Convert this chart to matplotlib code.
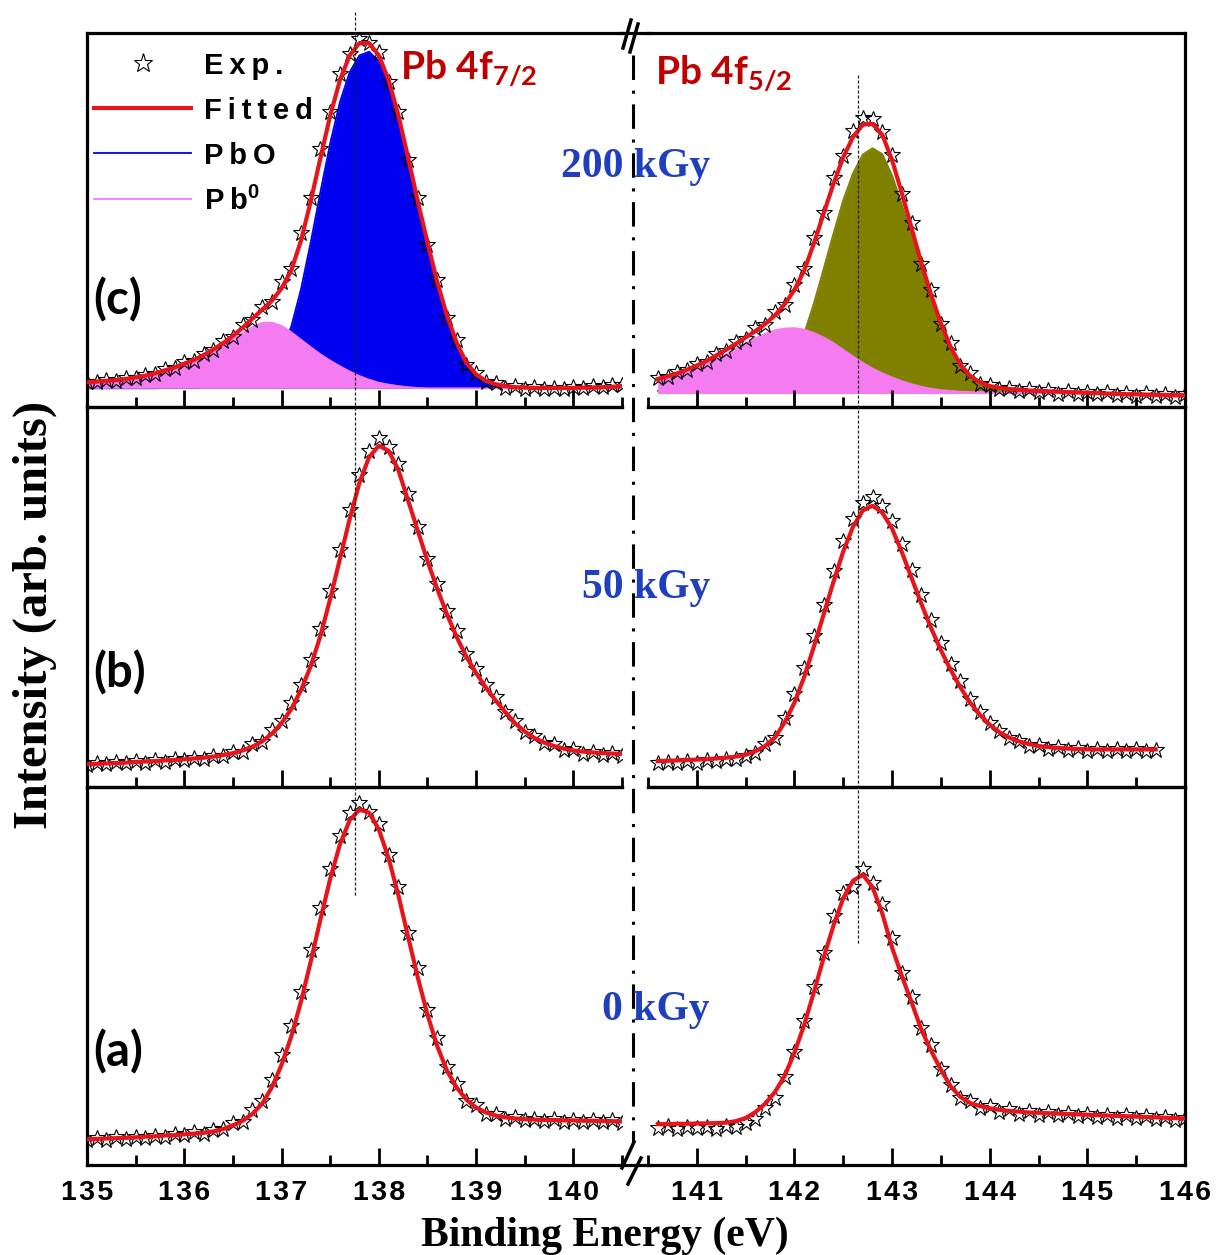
import numpy as np
import matplotlib.pyplot as plt
import matplotlib.transforms as mtransforms
from matplotlib.lines import Line2D
from matplotlib.ticker import MultipleLocator, FuncFormatter

plt.rcParams["mathtext.default"] = "regular"

# binding energy grids (0.1 eV steps)
e_left = np.round(np.arange(135.0, 140.55, 0.1), 1)     # 135.0 .. 140.5
e_right = np.round(np.arange(140.6, 146.05, 0.1), 1)    # 140.6 .. 146.0
e_right_b = e_right[:52]                                # 140.6 .. 145.7

# ---- (a) 0 kGy ----
fit_a_L = [0.068, 0.069, 0.070, 0.071, 0.072, 0.073, 0.075, 0.076, 0.078, 0.079,
           0.081, 0.083, 0.085, 0.089, 0.095, 0.105, 0.117, 0.135, 0.162, 0.205,
           0.265, 0.340, 0.432, 0.538, 0.650, 0.757, 0.848, 0.912, 0.940, 0.932,
           0.888, 0.812, 0.715, 0.605, 0.497, 0.398, 0.315, 0.250, 0.205, 0.173,
           0.152, 0.139, 0.131, 0.126, 0.123, 0.121, 0.120, 0.119, 0.119, 0.118,
           0.118, 0.117, 0.117, 0.116, 0.116, 0.115]
exp_a_L = [0.066, 0.072, 0.067, 0.073, 0.070, 0.075, 0.072, 0.078, 0.075, 0.081,
           0.079, 0.086, 0.083, 0.092, 0.094, 0.110, 0.114, 0.145, 0.168, 0.225,
           0.292, 0.368, 0.458, 0.570, 0.680, 0.782, 0.870, 0.930, 0.958, 0.935,
           0.902, 0.820, 0.735, 0.615, 0.520, 0.410, 0.335, 0.258, 0.215, 0.170,
           0.158, 0.135, 0.134, 0.121, 0.126, 0.118, 0.122, 0.116, 0.121, 0.115,
           0.120, 0.114, 0.119, 0.113, 0.118, 0.112]
fit_a_R = [0.108, 0.108, 0.109, 0.109, 0.110, 0.110, 0.111, 0.112, 0.116, 0.124,
           0.140, 0.162, 0.193, 0.236, 0.297, 0.371, 0.458, 0.549, 0.634, 0.706,
           0.752, 0.768, 0.735, 0.665, 0.575, 0.500, 0.430, 0.358, 0.302, 0.252,
           0.208, 0.180, 0.164, 0.156, 0.150, 0.146, 0.143, 0.141, 0.139, 0.138,
           0.137, 0.136, 0.135, 0.134, 0.133, 0.132, 0.131, 0.130, 0.129, 0.128,
           0.127, 0.126, 0.125, 0.124, 0.123]
exp_a_R = [0.098, 0.102, 0.096, 0.100, 0.097, 0.101, 0.095, 0.104, 0.100, 0.112,
           0.122, 0.150, 0.178, 0.232, 0.300, 0.380, 0.472, 0.560, 0.660, 0.720,
           0.735, 0.782, 0.745, 0.690, 0.600, 0.508, 0.445, 0.362, 0.318, 0.255,
           0.212, 0.176, 0.168, 0.150, 0.155, 0.140, 0.147, 0.136, 0.143, 0.132,
           0.140, 0.131, 0.138, 0.129, 0.136, 0.128, 0.133, 0.125, 0.131, 0.124,
           0.129, 0.121, 0.127, 0.120, 0.124]

# ---- (b) 50 kGy ----
fit_b_L = [0.060, 0.061, 0.062, 0.063, 0.064, 0.066, 0.067, 0.068, 0.070, 0.071,
           0.073, 0.075, 0.077, 0.080, 0.084, 0.089, 0.096, 0.106, 0.120, 0.140,
           0.168, 0.205, 0.255, 0.318, 0.398, 0.495, 0.600, 0.705, 0.800, 0.868,
           0.898, 0.885, 0.835, 0.755, 0.675, 0.595, 0.522, 0.455, 0.395, 0.343,
           0.300, 0.262, 0.228, 0.197, 0.168, 0.146, 0.129, 0.117, 0.108, 0.101,
           0.096, 0.093, 0.091, 0.089, 0.088, 0.087]
exp_b_L = [0.058, 0.064, 0.060, 0.066, 0.062, 0.068, 0.064, 0.070, 0.067, 0.073,
           0.070, 0.077, 0.074, 0.082, 0.081, 0.093, 0.092, 0.112, 0.118, 0.150,
           0.175, 0.222, 0.268, 0.335, 0.415, 0.515, 0.625, 0.730, 0.822, 0.885,
           0.918, 0.895, 0.850, 0.770, 0.685, 0.600, 0.535, 0.462, 0.410, 0.350,
           0.310, 0.268, 0.236, 0.198, 0.174, 0.146, 0.135, 0.116, 0.112, 0.098,
           0.099, 0.088, 0.093, 0.084, 0.090, 0.082]
fit_b_R = [0.068, 0.069, 0.070, 0.071, 0.072, 0.073, 0.075, 0.077, 0.080, 0.085,
           0.094, 0.108, 0.130, 0.170, 0.222, 0.290, 0.370, 0.455, 0.540, 0.620,
           0.685, 0.728, 0.740, 0.722, 0.680, 0.618, 0.550, 0.482, 0.418, 0.360,
           0.308, 0.262, 0.222, 0.190, 0.164, 0.144, 0.130, 0.120, 0.113, 0.108,
           0.105, 0.103, 0.101, 0.100, 0.099, 0.099, 0.099, 0.099, 0.099, 0.099,
           0.099, 0.099]
exp_b_R = [0.062, 0.066, 0.063, 0.068, 0.064, 0.070, 0.068, 0.074, 0.075, 0.082,
           0.090, 0.112, 0.128, 0.182, 0.245, 0.312, 0.398, 0.480, 0.568, 0.648,
           0.705, 0.748, 0.762, 0.740, 0.700, 0.640, 0.572, 0.505, 0.440, 0.380,
           0.325, 0.278, 0.232, 0.198, 0.168, 0.148, 0.128, 0.122, 0.108, 0.110,
           0.100, 0.104, 0.097, 0.102, 0.095, 0.101, 0.095, 0.100, 0.094, 0.099,
           0.094, 0.098]

# ---- (c) 200 kGy, with components ----
bg_c_L = 0.050
pb0_c_L = [0.066, 0.068, 0.070, 0.072, 0.075, 0.079, 0.084, 0.090, 0.097, 0.105,
           0.114, 0.124, 0.136, 0.150, 0.165, 0.181, 0.198, 0.214, 0.225, 0.226,
           0.217, 0.200, 0.180, 0.160, 0.141, 0.124, 0.109, 0.095, 0.083, 0.073,
           0.065, 0.060, 0.056, 0.053, 0.051, 0.050, 0.050, 0.050, 0.050, 0.050,
           0.050, 0.050, 0.050, 0.050, 0.050, 0.050, 0.050, 0.050, 0.050, 0.050,
           0.050, 0.050, 0.050, 0.050, 0.050, 0.050]
pbo_c_L = [0.050, 0.050, 0.050, 0.050, 0.050, 0.050, 0.050, 0.050, 0.051, 0.051,
           0.052, 0.052, 0.053, 0.054, 0.056, 0.059, 0.064, 0.072, 0.085, 0.108,
           0.150, 0.215, 0.315, 0.440, 0.575, 0.705, 0.815, 0.895, 0.940, 0.950,
           0.925, 0.865, 0.775, 0.665, 0.550, 0.440, 0.335, 0.245, 0.172, 0.118,
           0.086, 0.069, 0.060, 0.055, 0.052, 0.051, 0.050, 0.050, 0.050, 0.050,
           0.050, 0.050, 0.050, 0.050, 0.050, 0.050]
fit_c_L = [0.066, 0.068, 0.070, 0.072, 0.075, 0.079, 0.084, 0.090, 0.098, 0.106,
           0.116, 0.126, 0.139, 0.154, 0.171, 0.190, 0.212, 0.236, 0.260, 0.284,
           0.317, 0.365, 0.445, 0.550, 0.666, 0.779, 0.874, 0.940, 0.973, 0.973,
           0.940, 0.875, 0.781, 0.668, 0.551, 0.440, 0.335, 0.245, 0.172, 0.118,
           0.087, 0.070, 0.061, 0.056, 0.053, 0.052, 0.051, 0.051, 0.051, 0.051,
           0.051, 0.052, 0.052, 0.053, 0.054, 0.056]
exp_c_L = [0.068, 0.066, 0.072, 0.070, 0.077, 0.077, 0.086, 0.089, 0.101, 0.105,
           0.120, 0.124, 0.143, 0.152, 0.176, 0.188, 0.218, 0.233, 0.268, 0.282,
           0.335, 0.370, 0.465, 0.560, 0.690, 0.790, 0.890, 0.945, 0.985, 0.972,
           0.950, 0.870, 0.790, 0.660, 0.560, 0.432, 0.340, 0.238, 0.178, 0.112,
           0.090, 0.066, 0.063, 0.052, 0.055, 0.049, 0.053, 0.048, 0.052, 0.049,
           0.053, 0.050, 0.055, 0.054, 0.058, 0.060]

bg_c_R = 0.036
pb0_c_R = [0.070, 0.076, 0.083, 0.092, 0.102, 0.114, 0.127, 0.141, 0.155, 0.170,
           0.184, 0.196, 0.205, 0.210, 0.211, 0.207, 0.198, 0.186, 0.171, 0.153,
           0.135, 0.118, 0.103, 0.090, 0.079, 0.069, 0.061, 0.054, 0.049, 0.045,
           0.043, 0.041, 0.040, 0.040, 0.039, 0.038, 0.038, 0.038, 0.038, 0.037,
           0.037, 0.037, 0.037, 0.036, 0.036, 0.036, 0.036, 0.036, 0.036, 0.036,
           0.036, 0.036, 0.036, 0.036, 0.036]
pbo_c_R = [0.043, 0.044, 0.045, 0.046, 0.047, 0.047, 0.049, 0.050, 0.052, 0.054,
           0.057, 0.064, 0.078, 0.103, 0.140, 0.196, 0.278, 0.370, 0.464, 0.553,
           0.625, 0.675, 0.692, 0.676, 0.619, 0.541, 0.455, 0.369, 0.289, 0.217,
           0.155, 0.110, 0.081, 0.064, 0.055, 0.050, 0.047, 0.045, 0.043, 0.042,
           0.041, 0.040, 0.039, 0.038, 0.037, 0.036, 0.035, 0.034, 0.034, 0.033,
           0.032, 0.032, 0.031, 0.031, 0.030]
fit_c_R = [0.075, 0.082, 0.090, 0.100, 0.111, 0.123, 0.138, 0.153, 0.169, 0.186,
           0.203, 0.222, 0.245, 0.275, 0.313, 0.365, 0.438, 0.518, 0.597, 0.668,
           0.722, 0.755, 0.757, 0.728, 0.660, 0.572, 0.478, 0.385, 0.300, 0.224,
           0.160, 0.113, 0.083, 0.066, 0.056, 0.051, 0.048, 0.046, 0.044, 0.043,
           0.042, 0.041, 0.040, 0.039, 0.038, 0.037, 0.036, 0.035, 0.034, 0.034,
           0.033, 0.032, 0.032, 0.031, 0.031]
exp_c_R = [0.078, 0.080, 0.094, 0.098, 0.115, 0.121, 0.142, 0.150, 0.174, 0.183,
           0.210, 0.220, 0.255, 0.272, 0.325, 0.368, 0.452, 0.520, 0.612, 0.672,
           0.738, 0.772, 0.770, 0.735, 0.675, 0.570, 0.492, 0.382, 0.312, 0.222,
           0.170, 0.110, 0.090, 0.062, 0.060, 0.048, 0.052, 0.042, 0.047, 0.040,
           0.045, 0.036, 0.043, 0.035, 0.041, 0.034, 0.040, 0.032, 0.038, 0.030,
           0.037, 0.029, 0.036, 0.028, 0.034]

doses = ["0 kGy", "50 kGy", "200 kGy"]
panel_tags = ["(a)", "(b)", "(c)"]
legend_labels = ["Exp.", "Fitted", "PbO", "Pb$^{0}$"]
peak_72 = 137.76
peak_52 = 142.65

# colours
RED = "#e8141b"
TXT_RED = "#c00000"
TXT_BLUE = "#1f3fbf"
PBO_BLUE = "#0000f0"
PB0_PINK = "#f47cf0"
OLIVE = "#7f7f00"

THIN = "\u2009"
HAIR = "\u200a"
SANS = ["Liberation Sans", "DejaVu Sans"]


def spaced(s, gap=THIN):
    # the original uses wide letter tracking; keep mathtext parts intact
    if "$" in s:
        head, rest = s.split("$", 1)
        return gap.join(head) + "$" + rest
    return gap.join(s)


W, H = 1217, 1255
fig = plt.figure(figsize=(W / 100, H / 100), dpi=100)

# pixel rows of the three panels (top, bottom)
rows = {"c": (33, 407), "b": (407, 787), "a": (787, 1165)}

tick_fmt = FuncFormatter(lambda v, p: spaced(f"{v:.0f}", HAIR))


def make_pair(top, bot, labels):
    h = (bot - top) / H
    axL = fig.add_axes([87 / W, 1 - bot / H, 535 / W, h])
    axR = fig.add_axes([648 / W, 1 - bot / H, 537 / W, h])
    for ax, side in [(axL, "L"), (axR, "R")]:
        ax.set_ylim(0, 1)
        ax.set_yticks([])
        if side == "L":
            ax.set_xlim(135, 140.5)
            ax.spines["right"].set_visible(False)
        else:
            ax.set_xlim(140.5, 146)
            ax.spines["left"].set_visible(False)
        for s in ax.spines.values():
            s.set_linewidth(2.3)
        ax.xaxis.set_major_locator(MultipleLocator(1))
        ax.xaxis.set_minor_locator(MultipleLocator(0.5))
        ax.xaxis.set_major_formatter(tick_fmt)
        ax.tick_params(axis="x", which="both", direction="in", top=False,
                       bottom=True, width=2.0, pad=11, labelbottom=labels)
        ax.tick_params(axis="x", which="major", length=12)
        ax.tick_params(axis="x", which="minor", length=7)
        for lab in ax.get_xticklabels():
            lab.set_fontfamily(SANS)
            lab.set_fontweight("bold")
            lab.set_fontsize(20.5)
        ax.patch.set_alpha(0)
    return axL, axR


axcL, axcR = make_pair(*rows["c"], labels=False)
axbL, axbR = make_pair(*rows["b"], labels=False)
axaL, axaR = make_pair(*rows["a"], labels=True)


def star_fit(ax, x, exp, fit):
    s, = ax.plot(x, exp, ls="none", marker="*", ms=12, mfc="none", mec="black",
                 mew=0.8, zorder=3)
    f, = ax.plot(x, fit, color=RED, lw=3, zorder=4)
    return s, f


# (c) components: PbO first, Pb0 on top
axcL.fill_between(e_left, bg_c_L, pbo_c_L, color=PBO_BLUE, lw=0, zorder=1)
l_pbo, = axcL.plot(e_left, pbo_c_L, color=PBO_BLUE, lw=1.3, zorder=1)
axcL.fill_between(e_left, bg_c_L, pb0_c_L, color=PB0_PINK, lw=0, zorder=1)
l_pb0, = axcL.plot(e_left, pb0_c_L, color=PB0_PINK, lw=1.3, zorder=1)
axcR.fill_between(e_right, bg_c_R, pbo_c_R, color=OLIVE, lw=0, zorder=1)
axcR.plot(e_right, pbo_c_R, color=OLIVE, lw=1.3, zorder=1)
axcR.fill_between(e_right, bg_c_R, pb0_c_R, color=PB0_PINK, lw=0, zorder=1)
axcR.plot(e_right, pb0_c_R, color=PB0_PINK, lw=1.3, zorder=1)

h_exp, h_fit = star_fit(axcL, e_left, exp_c_L, fit_c_L)
star_fit(axcR, e_right, exp_c_R, fit_c_R)
star_fit(axbL, e_left, exp_b_L, fit_b_L)
star_fit(axbR, e_right_b, exp_b_R, fit_b_R)
star_fit(axaL, e_left, exp_a_L, fit_a_L)
star_fit(axaR, e_right, exp_a_R, fit_a_R)

leg = axcL.legend([h_exp, h_fit, l_pbo, l_pb0], [spaced(s) for s in legend_labels],
                  loc="upper left", bbox_to_anchor=(0.014, 0.95), frameon=False,
                  numpoints=1, handlelength=3.3, handletextpad=0.45,
                  labelspacing=0.58, borderpad=0, borderaxespad=0,
                  prop={"family": SANS, "weight": "bold", "size": 21})
leg.legend_handles[0].set_markersize(14)

# peak labels
axcL.text(0.585, 0.905, "Pb 4f$_{7/2}$", transform=axcL.transAxes, color=TXT_RED,
          fontsize=28, fontfamily="Lato", fontweight="bold", va="center")
axcR.text(0.013, 0.893, "Pb 4f$_{5/2}$", transform=axcR.transAxes, color=TXT_RED,
          fontsize=28, fontfamily="Lato", fontweight="bold", va="center")

# panel tags and dose labels (figure pixel positions)
for tag, dose, yt, yd in zip(panel_tags, doses, [1052, 673, 300], [1010, 588, 167]):
    fig.text(93 / W, 1 - yt / H, tag, fontsize=34, fontfamily="Lato",
             fontweight="bold", va="center", ha="left")
    fig.text(710 / W, 1 - yd / H, dose, fontsize=30, fontfamily="Liberation Serif",
             fontweight="bold", color=TXT_BLUE, va="center", ha="right")

# dotted peak-position guides
tL = mtransforms.blended_transform_factory(axcL.transData, fig.transFigure)
tR = mtransforms.blended_transform_factory(axcR.transData, fig.transFigure)
fig.add_artist(Line2D([peak_72, peak_72], [1 - 12 / H, 1 - 897 / H], transform=tL,
                      color="#222222", lw=0.9, ls=(0, (2.5, 1.5))))
fig.add_artist(Line2D([peak_52, peak_52], [1 - 75 / H, 1 - 945 / H], transform=tR,
                      color="#222222", lw=0.9, ls=(0, (2.5, 1.5))))

# axis break: dash-dot line and break marks
fig.add_artist(Line2D([633 / W, 633 / W], [1 - 55 / H, 1 - 1142 / H],
                      color="black", lw=2.2, ls=(0, (8, 3.5, 1, 3.5))))
for y0 in (33, 1165):
    fig.add_artist(Line2D([620 / W, 650 / W], [1 - y0 / H, 1 - y0 / H],
                          color="black", lw=2.3))
for (x0, y0, x1, y1) in [(623, 48, 631, 20), (630, 52, 638, 24),
                         (622, 1168, 634, 1142), (628, 1184, 641, 1158)]:
    fig.add_artist(Line2D([x0 / W, x1 / W], [1 - y0 / H, 1 - y1 / H],
                          color="black", lw=2.5))

# axis titles
fig.text(35 / W, 1 - 615 / H, "Intensity (arb. units)", rotation=90,
         fontsize=35, fontfamily="Liberation Serif", fontweight="bold",
         va="center", ha="center")
fig.text(605 / W, 1 - 1246 / H, "Binding Energy (eV)", fontsize=30,
         fontfamily="Liberation Serif", fontweight="bold", va="baseline", ha="center")

fig.savefig("out.png", dpi=100)
